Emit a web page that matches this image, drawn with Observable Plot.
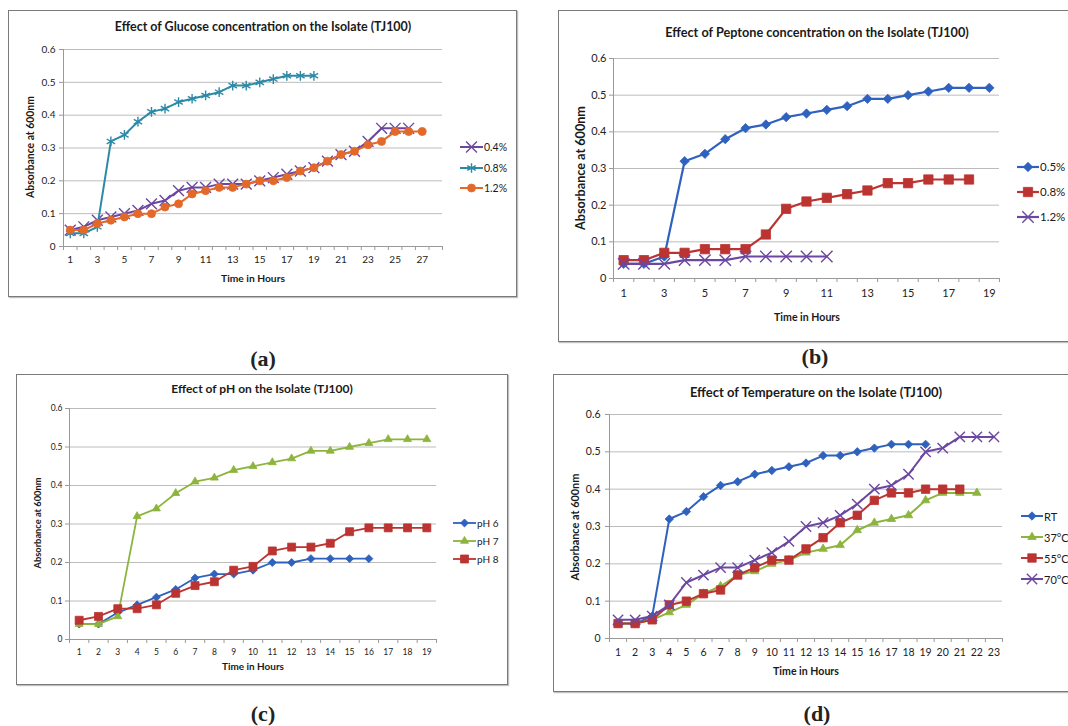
<!DOCTYPE html>
<html><head><meta charset="utf-8">
<script src="https://cdn.jsdelivr.net/npm/d3@7"></script>
<script src="https://cdn.jsdelivr.net/npm/@observablehq/plot@0.6"></script>
<style>
body{margin:0;background:#fff;}
#page{position:relative;width:1068px;height:726px;overflow:hidden;background:#fff;font-family:Lato,"Open Sans",sans-serif;color:#222;}
.box{position:absolute;border:1.5px solid #7a7a7a;box-sizing:border-box;box-shadow:1px 1px 1px rgba(0,0,0,0.25);}
.abs{position:absolute;white-space:nowrap;line-height:1;}
.cap{position:absolute;font-family:"Liberation Serif","Times New Roman",serif;font-weight:bold;font-size:22px;transform:translate(-50%,-50%);line-height:1;}
</style></head><body><div id="page"></div>
<script>
// ---------- shared ----------
const yTicks = [0, 0.1, 0.2, 0.3, 0.4, 0.5, 0.6];

// ---------- (a) Glucose ----------
const glucoseCategories = 28;
const glucoseXLabels = [1, 3, 5, 7, 9, 11, 13, 15, 17, 19, 21, 23, 25, 27];
const glucoseNames = ["0.4%", "0.8%", "1.2%"];
const glucose04 = [0.05,0.06,0.08,0.09,0.10,0.11,0.13,0.14,0.17,0.18,0.18,0.19,0.19,0.19,0.20,0.21,0.22,0.23,0.24,0.26,0.28,0.29,0.32,0.36,0.36,0.36];
const glucose08 = [0.04,0.04,0.06,0.32,0.34,0.38,0.41,0.42,0.44,0.45,0.46,0.47,0.49,0.49,0.50,0.51,0.52,0.52,0.52];
const glucose12 = [0.05,0.05,0.07,0.08,0.09,0.10,0.10,0.12,0.13,0.16,0.17,0.18,0.18,0.19,0.20,0.20,0.21,0.23,0.24,0.26,0.28,0.29,0.31,0.32,0.35,0.35,0.35];

// ---------- (b) Peptone ----------
const peptoneCategories = 19;
const peptoneXLabels = [1, 3, 5, 7, 9, 11, 13, 15, 17, 19];
const peptoneNames = ["0.5%", "0.8%", "1.2%"];
const peptone05 = [0.04,0.04,0.06,0.32,0.34,0.38,0.41,0.42,0.44,0.45,0.46,0.47,0.49,0.49,0.50,0.51,0.52,0.52,0.52];
const peptone08 = [0.05,0.05,0.07,0.07,0.08,0.08,0.08,0.12,0.19,0.21,0.22,0.23,0.24,0.26,0.26,0.27,0.27,0.27];
const peptone12 = [0.04,0.04,0.04,0.05,0.05,0.05,0.06,0.06,0.06,0.06,0.06];

// ---------- (c) pH ----------
const phCategories = 19;
const phXLabels = [1,2,3,4,5,6,7,8,9,10,11,12,13,14,15,16,17,18,19];
const phNames = ["pH 6", "pH 7", "pH 8"];
const ph6 = [0.04,0.04,0.07,0.09,0.11,0.13,0.16,0.17,0.17,0.18,0.20,0.20,0.21,0.21,0.21,0.21];
const ph7 = [0.04,0.04,0.06,0.32,0.34,0.38,0.41,0.42,0.44,0.45,0.46,0.47,0.49,0.49,0.50,0.51,0.52,0.52,0.52];
const ph8 = [0.05,0.06,0.08,0.08,0.09,0.12,0.14,0.15,0.18,0.19,0.23,0.24,0.24,0.25,0.28,0.29,0.29,0.29,0.29];

// ---------- (d) Temperature ----------
const tempCategories = 23;
const tempXLabels = [1,2,3,4,5,6,7,8,9,10,11,12,13,14,15,16,17,18,19,20,21,22,23];
const tempNames = ["RT", "37°C", "55°C", "70°C"];
const tempRT = [0.04,0.04,0.06,0.32,0.34,0.38,0.41,0.42,0.44,0.45,0.46,0.47,0.49,0.49,0.50,0.51,0.52,0.52,0.52];
const temp37 = [0.04,0.04,0.05,0.07,0.09,0.12,0.14,0.17,0.18,0.20,0.21,0.23,0.24,0.25,0.29,0.31,0.32,0.33,0.37,0.39,0.39,0.39];
const temp55 = [0.04,0.04,0.05,0.09,0.10,0.12,0.13,0.17,0.19,0.21,0.21,0.24,0.27,0.31,0.33,0.37,0.39,0.39,0.40,0.40,0.40];
const temp70 = [0.05,0.05,0.06,0.09,0.15,0.17,0.19,0.19,0.21,0.23,0.26,0.30,0.31,0.33,0.36,0.40,0.41,0.44,0.50,0.51,0.54,0.54,0.54];

const titles = [
  "Effect of Glucose concentration on the Isolate (TJ100)",
  "Effect of Peptone concentration on the Isolate (TJ100)",
  "Effect of pH on the Isolate (TJ100)",
  "Effect of Temperature on the Isolate (TJ100)"
];
const yTitle = "Absorbance at 600nm";
const xTitle = "Time in Hours";
const captions = ["(a)", "(b)", "(c)", "(d)"];

// colours / markers
const BLUE = "#2e62be", RED = "#bb3431", GREEN = "#8db43e", PURPLE = "#6b47a0", TEAL = "#2c8aa6", ORANGE = "#e2692a";
const styleOf = {
  diamond: {symbol: "diamond2", filled: true, r: 4},
  square: {symbol: "square", filled: true, r: 5},
  triangle: {symbol: "triangle", filled: true, r: 3.3},
  circle: {symbol: "circle", filled: true, r: 4},
  times: {symbol: "times", filled: false, r: 5},
  asterisk: {symbol: "asterisk", filled: false, r: 4.6}
};
const d3sym = {diamond2: d3.symbolDiamond2, square: d3.symbolSquare, triangle: d3.symbolTriangle,
  circle: d3.symbolCircle, times: d3.symbolTimes, asterisk: d3.symbolAsterisk};

const page = document.getElementById("page");
const ctx = document.createElement("canvas").getContext("2d");
function fit(text, weight, target) {
  ctx.font = `${weight} 20px Lato`;
  return 20 * target / ctx.measureText(text).width;
}
function addText(text, x, y, size, weight, rotate, color) {
  const d = document.createElement("div");
  d.className = "abs";
  d.textContent = text;
  Object.assign(d.style, {left: x + "px", top: y + "px", fontSize: size + "px", fontWeight: weight,
    color: color || "#1a1a1a",
    transform: `translate(-50%,-50%)` + (rotate ? ` rotate(${rotate}deg)` : "")});
  page.appendChild(d);
  return d;
}

function drawPanel(p) {
  const [bl, bt, br, bb] = p.box;
  const [pl, pt, pr, pb] = p.plot;
  const boundaries = [];
  for (let i = 0; i <= p.n; i++) boundaries.push(i + 0.5);
  const marks = [
    Plot.gridY(yTicks, {stroke: "#bcbcbc", strokeOpacity: 1, strokeWidth: 1}),
    Plot.axisY({ticks: yTicks, tickFormat: d => d === 0 ? "0" : d3.format(".1f")(d), tickSize: 4,
      tickPadding: p.yPad, label: null, color: "#222", stroke: "#9a9a9a"}),
    Plot.axisX({ticks: boundaries, tickSize: 4, tickFormat: () => "", label: null, stroke: "#9a9a9a"}),
    Plot.axisX({ticks: p.xLabels, tickSize: 0, tickPadding: p.xPad, label: null, color: "#222"}),
    Plot.ruleX([0.5], {stroke: "#9a9a9a"}),
    Plot.ruleY([0], {stroke: "#9a9a9a"})
  ];
  for (const s of p.series) {
    const rows = s.values.map((v, i) => ({hour: i + 1, v}));
    const st = styleOf[s.marker];
    marks.push(Plot.line(rows, {x: "hour", y: "v", stroke: s.color, strokeWidth: p.lw}));
    marks.push(Plot.dot(rows, {x: "hour", y: "v", symbol: st.symbol, r: st.r * p.ms,
      fill: st.filled ? s.color : "none", stroke: s.color, strokeWidth: st.filled ? 0.8 : 1.4}));
  }
  const svg = Plot.plot({
    width: br - bl, height: bb - bt,
    marginLeft: pl - bl, marginRight: br - pr, marginTop: pt - bt, marginBottom: bb - pb,
    x: {domain: [0.5, p.n + 0.5]},
    y: {domain: [0, 0.6]},
    style: {fontFamily: "Lato", fontSize: p.tick + "px", background: "transparent", overflow: "visible"},
    marks
  });
  Object.assign(svg.style, {position: "absolute", left: bl + "px", top: bt + "px", maxWidth: "none"});
  page.appendChild(svg);

  // border box
  const box = document.createElement("div");
  box.className = "box";
  Object.assign(box.style, {left: bl + "px", top: bt + "px", width: (br - bl) + "px", height: (bb - bt) + "px"});
  page.appendChild(box);

  // titles
  addText(p.title, p.titlePos[0], p.titlePos[1], fit(p.title, "bold", p.titleW), "bold");
  addText(yTitle, p.yTitlePos[0], p.yTitlePos[1], fit(yTitle, "bold", p.yTitleW), "bold", -90);
  addText(xTitle, p.xTitlePos[0], p.xTitlePos[1], fit(xTitle, "bold", p.xTitleW), "bold");

  // legend
  p.series.forEach((s, i) => {
    const y = p.legendY[i];
    const st = styleOf[s.marker];
    const w = p.legendW;
    const ns = "http://www.w3.org/2000/svg";
    const sw = document.createElementNS(ns, "svg");
    sw.setAttribute("width", w); sw.setAttribute("height", 14);
    Object.assign(sw.style, {position: "absolute", left: p.legendX + "px", top: (y - 7) + "px", overflow: "visible"});
    const ln = document.createElementNS(ns, "line");
    ln.setAttribute("x1", 0); ln.setAttribute("x2", w); ln.setAttribute("y1", 7); ln.setAttribute("y2", 7);
    ln.setAttribute("stroke", s.color); ln.setAttribute("stroke-width", p.lw);
    sw.appendChild(ln);
    const r = st.r * p.ms;
    const path = document.createElementNS(ns, "path");
    path.setAttribute("d", d3.symbol(d3sym[st.symbol], r * r * Math.PI)());
    path.setAttribute("transform", `translate(${w / 2},7)`);
    path.setAttribute("fill", st.filled ? s.color : "none");
    path.setAttribute("stroke", s.color);
    path.setAttribute("stroke-width", st.filled ? 0.8 : 1.4);
    sw.appendChild(path);
    page.appendChild(sw);
    const t = document.createElement("div");
    t.className = "abs";
    t.textContent = s.name;
    Object.assign(t.style, {left: (p.legendX + w + 1) + "px", top: y + "px", fontSize: p.legendFont + "px",
      transform: "translateY(-50%)", color: "#1a1a1a"});
    page.appendChild(t);
  });

  const c = document.createElement("div");
  c.className = "cap";
  c.textContent = p.caption;
  Object.assign(c.style, {left: p.capPos[0] + "px", top: p.capPos[1] + "px"});
  page.appendChild(c);
}

drawPanel({
  box: [8, 10, 517, 297], plot: [63, 49, 442, 246], n: glucoseCategories, xLabels: glucoseXLabels,
  tick: 10, yPad: 4, xPad: 9, lw: 2, ms: 1,
  title: titles[0], titlePos: [263, 27], titleW: 297,
  yTitlePos: [30, 147], yTitleW: 102, xTitlePos: [253, 278], xTitleW: 64,
  legendX: 460, legendY: [147, 168, 188], legendW: 23, legendFont: 10.5,
  caption: captions[0], capPos: [263, 359],
  series: [
    {name: glucoseNames[0], values: glucose04, color: PURPLE, marker: "times"},
    {name: glucoseNames[1], values: glucose08, color: TEAL, marker: "asterisk"},
    {name: glucoseNames[2], values: glucose12, color: ORANGE, marker: "circle"}
  ]
});
drawPanel({
  box: [558, 10, 1072, 342], plot: [613, 58, 999, 278], n: peptoneCategories, xLabels: peptoneXLabels,
  tick: 11, yPad: 3, xPad: 11, lw: 2.2, ms: 1.05,
  title: titles[1], titlePos: [817, 32], titleW: 304,
  yTitlePos: [581, 168], yTitleW: 124, xTitlePos: [807, 317], xTitleW: 66,
  legendX: 1017, legendY: [167, 192, 217], legendW: 22, legendFont: 11.5,
  caption: captions[1], capPos: [815, 357],
  series: [
    {name: peptoneNames[0], values: peptone05, color: BLUE, marker: "diamond"},
    {name: peptoneNames[1], values: peptone08, color: RED, marker: "square"},
    {name: peptoneNames[2], values: peptone12, color: PURPLE, marker: "times"}
  ]
});
drawPanel({
  box: [16, 374, 508, 685], plot: [69, 408, 436, 639], n: phCategories, xLabels: phXLabels,
  tick: 8.5, yPad: 3, xPad: 9, lw: 1.8, ms: 0.9,
  title: titles[2], titlePos: [262, 389], titleW: 182,
  yTitlePos: [38, 523], yTitleW: 91, xTitlePos: [253, 667], xTitleW: 62,
  legendX: 453, legendY: [523, 541, 559], legendW: 23, legendFont: 10,
  caption: captions[2], capPos: [263, 714],
  series: [
    {name: phNames[0], values: ph6, color: BLUE, marker: "diamond"},
    {name: phNames[1], values: ph7, color: GREEN, marker: "triangle"},
    {name: phNames[2], values: ph8, color: RED, marker: "square"}
  ]
});
drawPanel({
  box: [553, 374, 1072, 692], plot: [609, 414, 1002, 638], n: tempCategories, xLabels: tempXLabels,
  tick: 10.5, yPad: 5, xPad: 10, lw: 2, ms: 0.95,
  title: titles[3], titlePos: [816, 392], titleW: 253,
  yTitlePos: [575, 527], yTitleW: 107, xTitlePos: [806, 671], xTitleW: 66,
  legendX: 1021, legendY: [516, 537, 558, 579], legendW: 22, legendFont: 11,
  caption: captions[3], capPos: [817, 714],
  series: [
    {name: tempNames[0], values: tempRT, color: BLUE, marker: "diamond"},
    {name: tempNames[1], values: temp37, color: GREEN, marker: "triangle"},
    {name: tempNames[2], values: temp55, color: RED, marker: "square"},
    {name: tempNames[3], values: temp70, color: PURPLE, marker: "times"}
  ]
});
</script></body></html>
